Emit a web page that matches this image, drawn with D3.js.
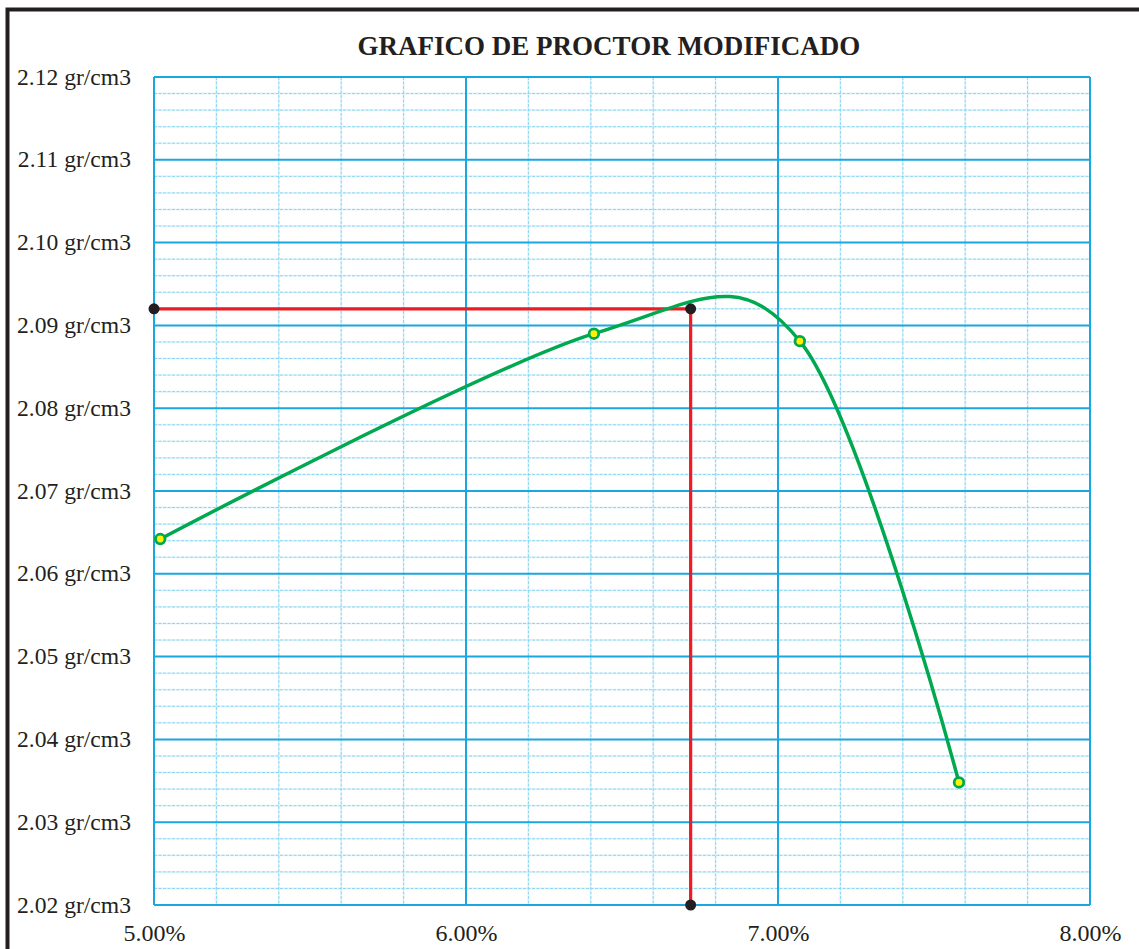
<!DOCTYPE html>
<html>
<head>
<meta charset="utf-8">
<script src="https://cdn.jsdelivr.net/npm/d3@7"></script>
<style>
  body { margin: 0; background: #fff; }
  svg { display: block; }
  svg text { font-family: "Liberation Serif", "Times New Roman", serif; fill: #231f20; }
</style>
</head>
<body>
<svg width="1139" height="949"></svg>
<script>
// humedad (%) vs densidad seca (gr/cm3)
var humedad = [5.02, 6.41, 7.07, 7.58];
var densidad = [2.0642, 2.0890, 2.0881, 2.0348];

// optimo contenido de humedad / maxima densidad seca
var optimoHumedad = 6.72;
var maxDensidad = 2.092;

var xTicks = [5, 6, 7, 8];
var yTicks = [2.02, 2.03, 2.04, 2.05, 2.06, 2.07, 2.08, 2.09, 2.10, 2.11, 2.12];
var titulo = "GRAFICO DE PROCTOR MODIFICADO";

var svg = d3.select("svg"),
    margin = {top: 77, right: 49, bottom: 44, left: 154},
    width = +svg.attr("width") - margin.left - margin.right,
    height = +svg.attr("height") - margin.top - margin.bottom;

var x = d3.scaleLinear().domain([5, 8]).range([0, width]),
    y = d3.scaleLinear().domain([2.02, 2.12]).range([height, 0]);

// marco exterior
svg.append("rect")
    .attr("x", 7.5).attr("y", 9.5)
    .attr("width", 1300).attr("height", 1100)
    .attr("fill", "none")
    .attr("stroke", "#231f20")
    .attr("stroke-width", 4);

svg.append("text")
    .attr("x", 609).attr("y", 55)
    .attr("text-anchor", "middle")
    .attr("font-weight", "bold")
    .attr("font-size", 27)
    .text(titulo);

var g = svg.append("g")
    .attr("transform", "translate(" + margin.left + "," + margin.top + ")");

// grilla secundaria
var xMinor = d3.range(0, 16).map(function(i) { return 5 + i * 0.2; })
    .filter(function(d) { return Math.abs(d - Math.round(d)) > 1e-6; });
var yMinor = d3.range(0, 51).map(function(i) { return 2.02 + i * 0.002; })
    .filter(function(d) { return Math.abs(d * 100 - Math.round(d * 100)) > 1e-6; });

var minor = g.append("g").attr("class", "minor");
[["#e6f6fc", 2, null], ["#8ad6f3", 1, "3,1.5"]].forEach(function(s) {
  minor.selectAll(null).data(xMinor).enter().append("line")
      .attr("x1", function(d) { return x(d); }).attr("x2", function(d) { return x(d); })
      .attr("y1", 0).attr("y2", height)
      .attr("stroke", s[0]).attr("stroke-width", s[1]).attr("stroke-dasharray", s[2]);
  minor.selectAll(null).data(yMinor).enter().append("line")
      .attr("y1", function(d) { return y(d); }).attr("y2", function(d) { return y(d); })
      .attr("x1", 0).attr("x2", width)
      .attr("stroke", s[0]).attr("stroke-width", s[1]).attr("stroke-dasharray", s[2]);
});

// grilla principal
g.append("g").selectAll("line").data(xTicks).enter().append("line")
    .attr("x1", function(d) { return x(d); }).attr("x2", function(d) { return x(d); })
    .attr("y1", 0).attr("y2", height)
    .attr("stroke", "#1aa6df").attr("stroke-width", 2);
g.append("g").selectAll("line").data(yTicks).enter().append("line")
    .attr("y1", function(d) { return y(d); }).attr("y2", function(d) { return y(d); })
    .attr("x1", 0).attr("x2", width)
    .attr("stroke", "#1aa6df").attr("stroke-width", 2);

// ejes (solo etiquetas)
var xAxis = d3.axisBottom(x).tickValues(xTicks).tickSize(0).tickPadding(0)
    .tickFormat(function(d) { return d.toFixed(2) + "%"; });
var yAxis = d3.axisLeft(y).tickValues(yTicks).tickSize(0).tickPadding(0)
    .tickFormat(function(d) { return d.toFixed(2) + " gr/cm3"; });

g.append("g")
    .attr("transform", "translate(0," + height + ")")
    .call(xAxis)
    .attr("font-family", null)
    .call(function(a) { a.select(".domain").remove(); })
    .selectAll("text")
    .attr("font-size", 24)
    .attr("fill", null)
    .attr("dy", 36);

g.append("g")
    .call(yAxis)
    .attr("font-family", null)
    .call(function(a) { a.select(".domain").remove(); })
    .selectAll("text")
    .attr("font-size", 23.6)
    .attr("fill", null)
    .attr("x", -23)
    .attr("dy", 7);

// lineas del optimo
var optimo = [[5, maxDensidad], [optimoHumedad, maxDensidad], [optimoHumedad, 2.02]];
g.append("path")
    .datum(optimo)
    .attr("fill", "none")
    .attr("stroke", "#ed1c24")
    .attr("stroke-width", 3.2)
    .attr("d", d3.line().x(function(d) { return x(d[0]); }).y(function(d) { return y(d[1]); }));

// curva de compactacion
var puntos = humedad.map(function(h, i) { return [h, densidad[i]]; });
g.append("path")
    .datum(puntos)
    .attr("fill", "none")
    .attr("stroke", "#00a84f")
    .attr("stroke-width", 3.5)
    .attr("d", d3.line()
        .curve(d3.curveCardinal.tension(0))
        .x(function(d) { return x(d[0]); })
        .y(function(d) { return y(d[1]); }));

g.selectAll(".punto").data(puntos).enter().append("circle")
    .attr("class", "punto")
    .attr("cx", function(d) { return x(d[0]); })
    .attr("cy", function(d) { return y(d[1]); })
    .attr("r", 4.8)
    .attr("fill", "#fff200")
    .attr("stroke", "#00a84f")
    .attr("stroke-width", 2.8);

g.selectAll(".optimo").data(optimo).enter().append("circle")
    .attr("class", "optimo")
    .attr("cx", function(d) { return x(d[0]); })
    .attr("cy", function(d) { return y(d[1]); })
    .attr("r", 5.5)
    .attr("fill", "#231f20");
</script>
</body>
</html>
